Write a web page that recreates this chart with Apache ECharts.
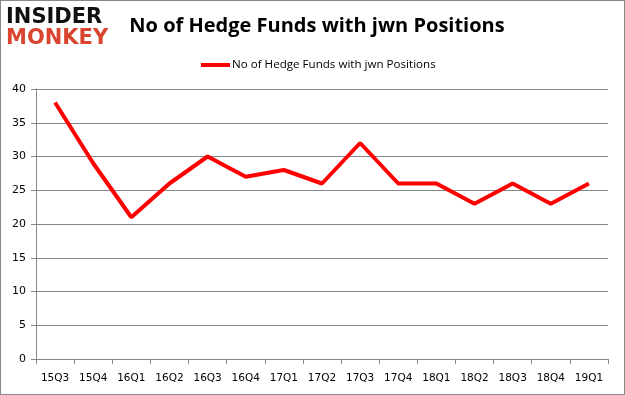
<!DOCTYPE html>
<html><head><meta charset="utf-8">
<script src="https://cdn.jsdelivr.net/npm/echarts@6/dist/echarts.min.js"></script>
<style>html,body{margin:0;padding:0;background:#fff}#c{width:625px;height:395px;box-sizing:border-box;border:1px solid #888}</style>
</head><body><div id="c"></div>
<script>
var categories = ['15Q3','15Q4','16Q1','16Q2','16Q3','16Q4','17Q1','17Q2','17Q3','17Q4','18Q1','18Q2','18Q3','18Q4','19Q1'];
var values = [38, 29, 21, 26, 30, 27, 28, 26, 32, 26, 26, 23, 26, 23, 26];
var seriesName = 'No of Hedge Funds with jwn Positions';
var chart = echarts.init(document.getElementById('c'));
chart.setOption({
  animation: false,
  title: {text: 'No of Hedge Funds with jwn Positions', left: 311, textAlign: 'center', top: 10,
    textStyle: {fontFamily: 'Open Sans', fontWeight: 'bold', fontSize: 20, color: '#000'}},
  graphic: [
    {type: 'text', left: 5, top: 6, style: {text: 'INSIDER', fontFamily: 'DejaVu Sans', fontWeight: 'bold', fontSize: 21, fill: '#111'}},
    {type: 'text', left: 5, top: 27, style: {text: 'MONKEY', fontFamily: 'DejaVu Sans', fontWeight: 'bold', fontSize: 21, fill: '#d9452f'}}
  ],
  legend: {data: [seriesName], top: 53, left: 195, itemWidth: 29, itemHeight: 4, itemGap: 2,
    textStyle: {fontFamily: 'Open Sans', fontSize: 11.6, color: '#000', padding: [0,0,0,-3]}, icon: 'rect'},
  grid: {left: 35, right: 16, top: 88, bottom: 35, containLabel: false},
  xAxis: {type: 'category', data: categories, boundaryGap: true,
    axisLine: {lineStyle: {color: '#888'}}, axisTick: {show: true, length: 5, lineStyle: {color: '#888'}},
    axisLabel: {fontFamily: 'DejaVu Sans', fontSize: 10.5, color: '#000', margin: 14, interval: 0}},
  yAxis: {type: 'value', min: 0, max: 40, interval: 5,
    axisLine: {show: true, lineStyle: {color: '#888'}}, axisTick: {show: true, length: 5, inside: false, lineStyle: {color: '#888'}},
    splitLine: {lineStyle: {color: '#888'}},
    axisLabel: {fontFamily: 'DejaVu Sans', fontSize: 11, color: '#000', margin: 10}},
  series: [{name: seriesName, type: 'line', data: values, symbol: 'none',
    lineStyle: {color: '#ff0000', width: 4}, itemStyle: {color: '#ff0000'}}]
});
</script></body></html>
